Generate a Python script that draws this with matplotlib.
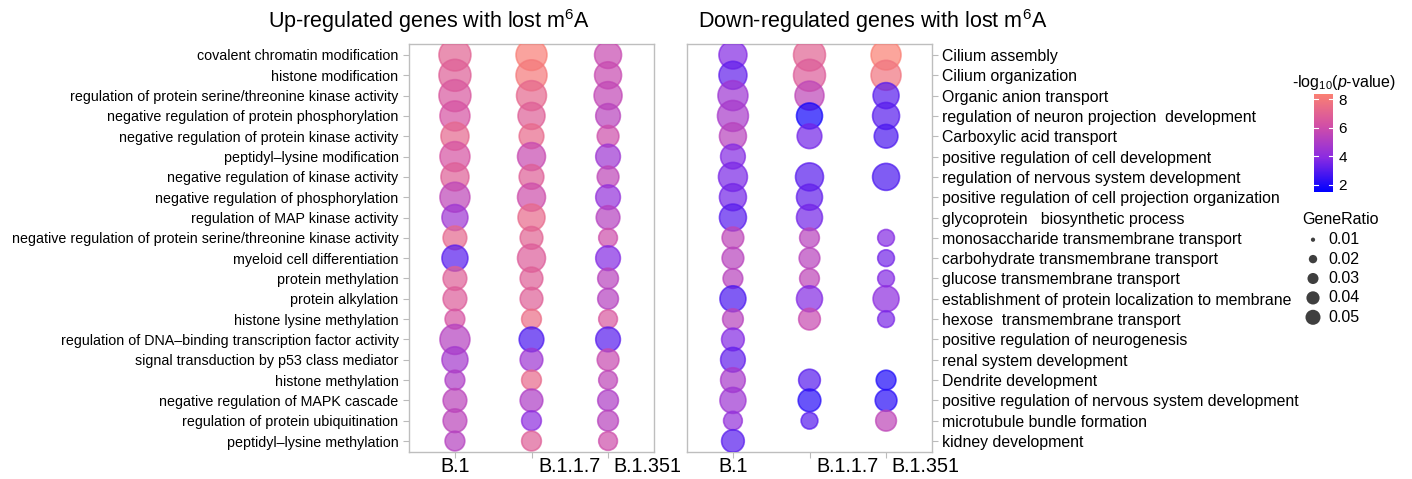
import numpy as np
import matplotlib
matplotlib.use("Agg")
import matplotlib.pyplot as plt
from matplotlib.colors import LinearSegmentedColormap, Normalize
from matplotlib.colorbar import ColorbarBase

plt.rcParams['font.family'] = ['Liberation Sans', 'DejaVu Sans']
plt.rcParams['mathtext.fontset'] = 'custom'
plt.rcParams['mathtext.rm'] = 'Liberation Sans'
plt.rcParams['mathtext.it'] = 'Liberation Sans:italic'

nan = np.nan
variants = ["B.1", "B.1.1.7", "B.1.351"]

up_terms = [
    "covalent chromatin modification",
    "histone modification",
    "regulation of protein serine/threonine kinase activity",
    "negative regulation of protein phosphorylation",
    "negative regulation of protein kinase activity",
    "peptidyl\u2013lysine modification",
    "negative regulation of kinase activity",
    "negative regulation of phosphorylation",
    "regulation of MAP kinase activity",
    "negative regulation of protein serine/threonine kinase activity",
    "myeloid cell differentiation",
    "protein methylation",
    "protein alkylation",
    "histone lysine methylation",
    "regulation of DNA\u2013binding transcription factor activity",
    "signal transduction by p53 class mediator",
    "histone methylation",
    "negative regulation of MAPK cascade",
    "regulation of protein ubiquitination",
    "peptidyl\u2013lysine methylation",
]
down_terms = [
    "Cilium assembly",
    "Cilium organization",
    "Organic anion transport",
    "regulation of neuron projection  development",
    "Carboxylic acid transport",
    "positive regulation of cell development",
    "regulation of nervous system development",
    "positive regulation of cell projection organization",
    "glycoprotein   biosynthetic process",
    "monosaccharide transmembrane transport",
    "carbohydrate transmembrane transport",
    "glucose transmembrane transport",
    "establishment of protein localization to membrane",
    "hexose  transmembrane transport",
    "positive regulation of neurogenesis",
    "renal system development",
    "Dendrite development",
    "positive regulation of nervous system development",
    "microtubule bundle formation",
    "kidney development",
]

# -log10(p) values, up-regulated panel
up_p_b1 = [7.0, 6.8, 6.5, 6.3, 7.2, 6.3, 6.8, 5.5, 4.5, 7.2, 3.0, 6.8, 6.7, 6.3, 5.2, 4.7, 5.0, 5.4, 5.4, 5.2]
up_p_b117 = [8.2, 8.0, 7.2, 6.8, 7.3, 5.8, 6.8, 6.0, 7.3, 7.0, 6.7, 6.8, 6.8, 7.5, 2.8, 4.5, 7.3, 5.0, 4.0, 6.8]
up_p_b1351 = [5.8, 5.8, 5.6, 5.3, 6.0, 4.5, 5.5, 4.2, 5.2, 6.0, 3.8, 5.3, 5.2, 6.5, 3.0, 5.8, 5.5, 5.0, 5.3, 6.0]
# gene ratios, up-regulated panel
up_r_b1 = [.070, .070, .070, .064, .058, .064, .058, .064, .052, .045, .052, .045, .045, .033, .064, .052, .033, .045, .045, .033]
up_r_b117 = [.067, .067, .064, .055, .048, .058, .048, .058, .055, .042, .058, .042, .042, .033, .048, .042, .033, .042, .033, .033]
up_r_b1351 = [.055, .055, .058, .048, .039, .048, .039, .048, .045, .030, .048, .036, .036, .030, .048, .039, .030, .036, .036, .030]

# down-regulated panel
down_p_b1 = [3.8, 3.2, 4.5, 4.8, 5.3, 3.8, 3.6, 3.5, 3.0, 5.5, 5.3, 5.3, 2.8, 5.3, 3.8, 3.2, 4.8, 4.5, 4.2, 3.0]
down_p_b117 = [7.0, 6.7, 5.5, 1.8, 3.5, nan, 3.0, 3.2, 3.5, 5.3, 5.3, 5.5, 3.8, 5.8, nan, nan, 3.0, 2.2, 3.0, nan]
down_p_b1351 = [8.3, 7.8, 3.0, 3.0, 2.8, nan, 2.8, nan, nan, 3.8, 3.5, 3.8, 4.0, 3.6, nan, nan, 2.0, 2.2, 5.5, nan]
down_r_b1 = [.058, .058, .064, .067, .055, .048, .061, .055, .055, .039, .039, .033, .052, .036, .042, .048, .048, .052, .030, .042]
down_r_b117 = [.070, .070, .061, .052, .048, nan, .058, .052, .052, .033, .036, .033, .052, .039, nan, nan, .039, .042, .024, nan]
down_r_b1351 = [.064, .064, .052, .055, .045, nan, .055, nan, nan, .024, .024, .024, .052, .024, nan, nan, .033, .039, .036, nan]

legend_ratios = [0.01, 0.02, 0.03, 0.04, 0.05]

cmap = LinearSegmentedColormap.from_list(
    "pv", [(0.0, "#0000FF"), (0.35, "#8A2BE2"), (0.68, "#D24FA6"), (1.0, "#FA8072")])
norm = Normalize(vmin=1.5, vmax=8.35)

W, H, DPI = 14.12, 4.79, 100
fig = plt.figure(figsize=(W, H), dpi=DPI)


def px2pt(d):
    return d * 72.0 / DPI


def dot_size(r):
    d = 10 + 330 * np.asarray(r, dtype=float)  # diameter in px
    return px2pt(d - 1.2) ** 2


def panel(rect, terms, pvals, ratios, side, lab_size):
    ax = fig.add_axes(rect)
    y = np.arange(len(terms))
    for i, (pv, rt) in enumerate(zip(pvals, ratios)):
        pv = np.asarray(pv, dtype=float)
        rt = np.asarray(rt, dtype=float)
        ok = ~np.isnan(pv)
        cols = cmap(norm(pv[ok]))
        cols[:, 3] = 0.7
        ax.scatter(np.full(ok.sum(), i + 1), y[ok], s=dot_size(rt[ok]),
                   c=cols, edgecolors=cols, linewidths=1.2, zorder=3)
    ax.set_xlim(0.4, 3.6)
    ax.set_ylim(len(terms) - 0.46, -0.54)
    ax.set_yticks(y)
    ax.set_yticklabels(terms, fontsize=lab_size)
    ax.set_xticks([1, 2, 3])
    ax.set_xticklabels([])
    # variant names sit a bit right of their ticks, as in the original
    shifts = [0, 7, 5]
    aligns = ['center', 'left', 'left']
    for k, v in enumerate(variants):
        ax.annotate(v, xy=(k + 1, 0), xycoords=ax.get_xaxis_transform(),
                    xytext=(shifts[k], -5), textcoords='offset pixels',
                    ha=aligns[k], va='top', fontsize=14.2)
    if side == 'right':
        ax.yaxis.tick_right()
    ax.tick_params(axis='y', length=4.5, width=0.8, color='#BBBBBB', pad=3)
    ax.tick_params(axis='x', length=4, width=0.8, color='#BBBBBB', pad=1)
    for sp in ax.spines.values():
        sp.set_color('#BEBEBE')
        sp.set_linewidth(1.0)
    return ax


def fr(x0, y0, x1, y1):
    return [x0 / 1412, 1 - y1 / 479, (x1 - x0) / 1412, (y1 - y0) / 479]


panel(fr(409, 44, 654, 452), up_terms,
      [up_p_b1, up_p_b117, up_p_b1351], [up_r_b1, up_r_b117, up_r_b1351], 'left', 10.3)
panel(fr(687, 44, 932, 452), down_terms,
      [down_p_b1, down_p_b117, down_p_b1351], [down_r_b1, down_r_b117, down_r_b1351], 'right', 11.4)

fig.text(429 / 1412, 1 - 21 / 479, r"Up-regulated genes with lost m$^{\mathrm{6}}$A",
         ha='center', va='center', fontsize=15.5)
fig.text(873 / 1412, 1 - 21 / 479, r"Down-regulated genes with lost m$^{\mathrm{6}}$A",
         ha='center', va='center', fontsize=15.5)

# colour bar
cax = fig.add_axes(fr(1314, 94, 1333, 192))
cb = ColorbarBase(cax, cmap=cmap, norm=norm, orientation='vertical')
cb.set_ticks([2, 4, 6, 8])
cb.outline.set_visible(False)
cax.tick_params(length=0, labelsize=11, pad=4)
for t in [2, 4, 6, 8]:
    cax.plot([0.0, 0.2], [t, t], color='white', lw=0.8, transform=cax.get_yaxis_transform())
    cax.plot([0.8, 1.0], [t, t], color='white', lw=0.8, transform=cax.get_yaxis_transform())
fig.text(1344 / 1412, 1 - 82 / 479, r"-log$_{\mathrm{10}}$($\mathit{p}$-value)",
         ha='center', va='center', fontsize=11.5)

# size legend
fig.text(1302 / 1412, 1 - 220 / 479, "GeneRatio", ha='left', va='center', fontsize=11.5)
lax = fig.add_axes(fr(1300, 230, 1412, 327))
lax.set_xlim(0, 1)
lax.set_ylim(4.5, -0.5)
lax.axis('off')
ly = np.arange(len(legend_ratios))
ld = np.sqrt(np.maximum(5200 * np.array(legend_ratios) - 34, 1))
lax.scatter(np.full(len(ly), 13 / 112), ly, s=px2pt(ld) ** 2, color='#3F3F3F', linewidths=0)
for yy, r in zip(ly, legend_ratios):
    lax.text(28 / 112, yy, "%.2f" % r, va='center', ha='left', fontsize=11.5)

fig.savefig("out.png", dpi=DPI)
